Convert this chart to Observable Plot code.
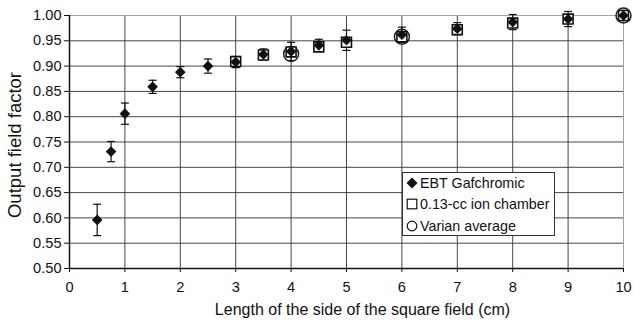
<!DOCTYPE html>
<html>
<head>
<meta charset="utf-8">
<script src="https://cdn.jsdelivr.net/npm/d3@7"></script>
<script src="https://cdn.jsdelivr.net/npm/@observablehq/plot@0.6"></script>
<style>
  body { margin: 0; background: #fff; }
  #wrap { position: relative; width: 635px; height: 322px; font-family: "Liberation Sans", Arial, sans-serif; }
  #wrap svg g[aria-label$="tick label"] { font-size: 14.6px; }
  #legend { position: absolute; left: 402px; top: 172px; width: 151px; height: 62px; border: 1px solid #333; background: #fff; font-size: 14.3px; color: #111; }
  #legend .row { position: absolute; left: 3px; display: flex; align-items: center; white-space: nowrap; height: 16px; }
  #legend svg { margin-right: 2px; }
</style>
</head>
<body>
<div id="wrap"></div>
<script>
const ebtX = [0.5, 0.75, 1, 1.5, 2, 2.5, 3, 3.5, 4, 4.5, 5, 6, 7, 8, 9, 10];
const ebtY = [0.596, 0.731, 0.806, 0.859, 0.888, 0.900, 0.908, 0.923, 0.929, 0.941, 0.951, 0.962, 0.974, 0.987, 0.993, 1.000];
const ebtErr = [0.031, 0.020, 0.021, 0.013, 0.011, 0.014, 0.011, 0.011, 0.018, 0.012, 0.020, 0.015, 0.012, 0.015, 0.015, 0.010];
const ionX = [3, 3.5, 4, 4.5, 5, 6, 7, 8, 9, 10];
const ionY = [0.909, 0.922, 0.928, 0.938, 0.947, 0.958, 0.972, 0.985, 0.993, 1.000];
const varX = [4, 6, 10];
const varY = [0.924, 0.958, 1.000];
const xTicks = [0, 1, 2, 3, 4, 5, 6, 7, 8, 9, 10];
const yTicks = [0.50, 0.55, 0.60, 0.65, 0.70, 0.75, 0.80, 0.85, 0.90, 0.95, 1.00];
const seriesNames = ["EBT Gafchromic", "0.13-cc ion chamber", "Varian average"];
const xTitle = "Length of the side of the square field (cm)";
const yTitle = "Output field factor";

const ebt = ebtX.map((x, i) => ({x, y: ebtY[i], lo: ebtY[i] - ebtErr[i], hi: ebtY[i] + ebtErr[i]}));
const ion = ionX.map((x, i) => ({x, y: ionY[i]}));
const varian = varX.map((x, i) => ({x, y: varY[i]}));

const capSymbol = { draw(ctx, size) { const r = Math.sqrt(size / Math.PI); ctx.moveTo(-r, 0); ctx.lineTo(r, 0); } };

const chart = Plot.plot({
  width: 635, height: 322,
  marginLeft: 69, marginRight: 12, marginTop: 15, marginBottom: 54,
  style: { fontFamily: "Liberation Sans, Arial, sans-serif", fontSize: "14.6px", color: "#111", background: "#fff" },
  x: { domain: [0, 10] },
  y: { domain: [0.5, 1] },
  color: { type: "identity" },
  marks: [
    Plot.gridX(xTicks, { stroke: d => d === 10 ? "#999" : "#333", strokeOpacity: 0.9 }),
    Plot.gridY(yTicks, { stroke: d => d === 1 ? "#999" : "#333", strokeOpacity: 0.9 }),
    Plot.axisX(xTicks, { tickSize: 4, tickPadding: 9, fontSize: 14.6, label: null, stroke: "#111" }),
    Plot.axisY(yTicks, { tickSize: 5, tickPadding: 3, fontSize: 14.6, tickFormat: d3.format(".2f"), label: null, stroke: "#111" }),
    Plot.text([xTitle], { frameAnchor: "bottom", lineAnchor: "bottom", dy: 46, dx: 16, fontSize: 16, fill: "#111" }),
    Plot.text([yTitle], { frameAnchor: "left", textAnchor: "middle", rotate: -90, lineAnchor: "top", dx: -62, dy: 3, fontSize: 18.5, fill: "#111" }),
    Plot.ruleX([0], { stroke: "#111", strokeWidth: 1.5 }),
    Plot.ruleY([0.5], { stroke: "#111", strokeWidth: 1.5 }),
    Plot.ruleX(ebt, { x: "x", y1: "lo", y2: "hi", stroke: "#111", strokeWidth: 1.2 }),
    Plot.dot(ebt, { x: "x", y: "lo", symbol: capSymbol, r: 4, stroke: "#111", fill: "none", strokeWidth: 1.2 }),
    Plot.dot(ebt, { x: "x", y: "hi", symbol: capSymbol, r: 4, stroke: "#111", fill: "none", strokeWidth: 1.2 }),
    Plot.dot(varian, { x: "x", y: "y", symbol: "circle", r: 7.5, stroke: "#222", fill: "none", strokeWidth: 1.5 }),
    Plot.dot(ion, { x: "x", y: "y", symbol: "square", r: 5.6, stroke: "#111", fill: "#fff", strokeWidth: 1.6 }),
    Plot.dot(ebt, { x: "x", y: "y", symbol: "diamond2", r: 4.8, fill: "#111", stroke: "none" })
  ]
});

const wrap = document.getElementById("wrap");
wrap.appendChild(chart);

const legend = document.createElement("div");
legend.id = "legend";
const icons = [
  '<svg width="12" height="12" viewBox="-6 -6 12 12"><path d="M0,-5.5L5.5,0L0,5.5L-5.5,0Z" fill="#111"/></svg>',
  '<svg width="12" height="12" viewBox="-6 -6 12 12"><rect x="-4.8" y="-4.8" width="9.6" height="9.6" fill="none" stroke="#111" stroke-width="1.2"/></svg>',
  '<svg width="12" height="12" viewBox="-6 -6 12 12"><circle r="4.8" fill="none" stroke="#111" stroke-width="1.2"/></svg>'
];
const tops = [2, 23, 45];
seriesNames.forEach((name, i) => {
  const row = document.createElement("div");
  row.className = "row";
  row.style.top = tops[i] + "px";
  row.innerHTML = icons[i] + "<span>" + name + "</span>";
  legend.appendChild(row);
});
wrap.appendChild(legend);
</script>
</body>
</html>
